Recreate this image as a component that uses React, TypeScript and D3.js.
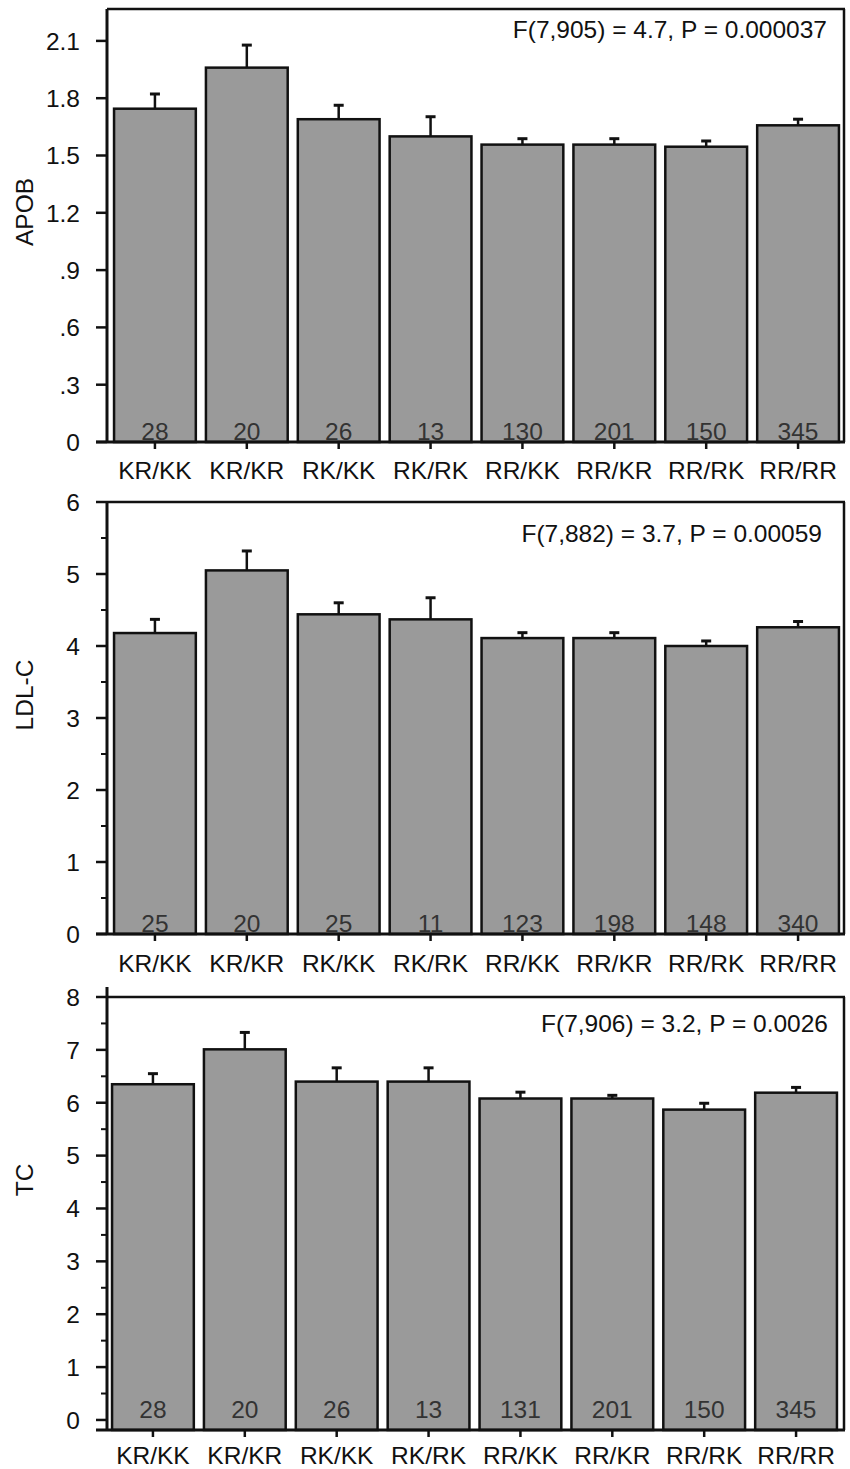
import React from "react"
import * as d3 from "d3"

const genotypes = ["KR/KK", "KR/KR", "RK/KK", "RK/RK", "RR/KK", "RR/KR", "RR/RK", "RR/RR"]

const apobMean = [1.745, 1.96, 1.69, 1.6, 1.557, 1.557, 1.546, 1.658]
const apobSE = [0.077, 0.118, 0.073, 0.103, 0.031, 0.031, 0.03, 0.032]
const apobN = [28, 20, 26, 13, 130, 201, 150, 345]
const apobTicks = [0, 0.3, 0.6, 0.9, 1.2, 1.5, 1.8, 2.1]
const apobTickLabels = ["0", ".3", ".6", ".9", "1.2", "1.5", "1.8", "2.1"]

const ldlMean = [4.18, 5.05, 4.44, 4.37, 4.11, 4.11, 4.0, 4.26]
const ldlSE = [0.19, 0.27, 0.16, 0.3, 0.075, 0.075, 0.07, 0.08]
const ldlN = [25, 20, 25, 11, 123, 198, 148, 340]
const ldlTicks = [0, 1, 2, 3, 4, 5, 6]
const ldlMinor = [0.5, 1.5, 2.5, 3.5, 4.5, 5.5]

const tcMean = [6.35, 7.01, 6.4, 6.4, 6.08, 6.08, 5.87, 6.19]
const tcSE = [0.2, 0.32, 0.26, 0.26, 0.12, 0.06, 0.12, 0.1]
const tcN = [28, 20, 26, 13, 131, 201, 150, 345]
const tcTicks = [0, 1, 2, 3, 4, 5, 6, 7, 8]
const tcMinor = [0.5, 1.5, 2.5, 3.5, 4.5, 5.5, 6.5, 7.5]

const panels = [
  {
    label: "APOB", mean: apobMean, se: apobSE, n: apobN,
    ticks: apobTicks, tickLabels: apobTickLabels, minor: [],
    stat: "F(7,905) = 4.7, P = 0.000037",
    domain: [0, 2.267], top: 9, bottom: 442, x0: 109, x1: 844,
    statY: 38, statX: 827, labelY: 212, axisTop: 9, catDy: 37,
  },
  {
    label: "LDL-C", mean: ldlMean, se: ldlSE, n: ldlN,
    ticks: ldlTicks, tickLabels: ldlTicks.map(String), minor: ldlMinor,
    stat: "F(7,882) = 3.7, P = 0.00059",
    domain: [0, 6], top: 502, bottom: 934, x0: 109, x1: 844,
    statY: 542, statX: 822, labelY: 695, axisTop: 502, catDy: 38,
  },
  {
    label: "TC", mean: tcMean, se: tcSE, n: tcN,
    ticks: tcTicks, tickLabels: tcTicks.map(String), minor: tcMinor,
    stat: "F(7,906) = 3.2, P = 0.0026",
    domain: [-0.19, 8], top: 997, bottom: 1430, x0: 107, x1: 842,
    statY: 1032, statX: 828, labelY: 1180, axisTop: 987, catDy: 34,
  },
]

const FONT = "'Liberation Sans', Arial, Helvetica, sans-serif"
const FS = 24.5
const AXIS_X = 107
const RIGHT = 844

const Panel = ({ p }) => {
  const x = d3.scaleBand().domain(genotypes).range([p.x0, p.x1]).paddingInner(0.11).paddingOuter(0.055)
  const y = d3.scaleLinear().domain(p.domain).range([p.bottom, p.top])
  const bw = x.bandwidth()

  return (
    <g>
      {/* bars with error bars and group sizes */}
      {genotypes.map((g, i) => {
        const cx = x(g) + bw / 2
        const top = y(p.mean[i])
        const cap = y(p.mean[i] + p.se[i])
        return (
          <g key={g}>
            <line x1={cx} x2={cx} y1={top} y2={cap} stroke="#111" strokeWidth={2.5} />
            <line x1={cx - 5} x2={cx + 5} y1={cap} y2={cap} stroke="#111" strokeWidth={3} />
            <rect x={x(g)} y={top} width={bw} height={p.bottom - top} fill="#9a9a9a" stroke="#111" strokeWidth={2.5} />
            <text x={cx} y={y(0) - 2} textAnchor="middle" fontSize={FS} fill="#333" fontFamily={FONT}>
              {p.n[i]}
            </text>
            <line x1={cx} x2={cx} y1={p.bottom} y2={p.bottom + 7} stroke="#111" strokeWidth={2.5} />
            <text x={cx} y={p.bottom + p.catDy} textAnchor="middle" fontSize={FS} fill="#111" fontFamily={FONT}>
              {g}
            </text>
          </g>
        )
      })}

      {/* frame */}
      <line x1={AXIS_X} x2={RIGHT + 1} y1={p.top} y2={p.top} stroke="#111" strokeWidth={2.5} />
      <line x1={RIGHT} x2={RIGHT} y1={p.top} y2={p.bottom} stroke="#111" strokeWidth={2.5} />
      <line x1={96} x2={RIGHT + 1} y1={p.bottom} y2={p.bottom} stroke="#111" strokeWidth={3} />
      <line x1={AXIS_X} x2={AXIS_X} y1={p.axisTop} y2={p.bottom} stroke="#111" strokeWidth={3} />

      {/* y ticks */}
      {p.ticks.map((t, i) => (
        <g key={t}>
          <line x1={96} x2={AXIS_X} y1={y(t)} y2={y(t)} stroke="#111" strokeWidth={2.5} />
          <text x={80} y={y(t)} dy="0.36em" textAnchor="end" fontSize={FS} fill="#111" fontFamily={FONT}>
            {p.tickLabels[i]}
          </text>
        </g>
      ))}
      {p.minor.map(t => (
        <line key={t} x1={101} x2={AXIS_X} y1={y(t)} y2={y(t)} stroke="#111" strokeWidth={2} />
      ))}

      <text x={p.statX} y={p.statY} textAnchor="end" fontSize={FS} fill="#111" fontFamily={FONT}>
        {p.stat}
      </text>
      <text
        transform={`translate(33, ${p.labelY}) rotate(-90)`}
        textAnchor="middle"
        fontSize={FS}
        fill="#111"
        fontFamily={FONT}
      >
        {p.label}
      </text>
    </g>
  )
}

export default function App() {
  return (
    <div style={{ position: "absolute", left: 0, top: 0 }}>
      <svg width={850} height={1469} style={{ display: "block", background: "#fff" }}>
        {panels.map(p => (
          <Panel key={p.label} p={p} />
        ))}
      </svg>
    </div>
  )
}
